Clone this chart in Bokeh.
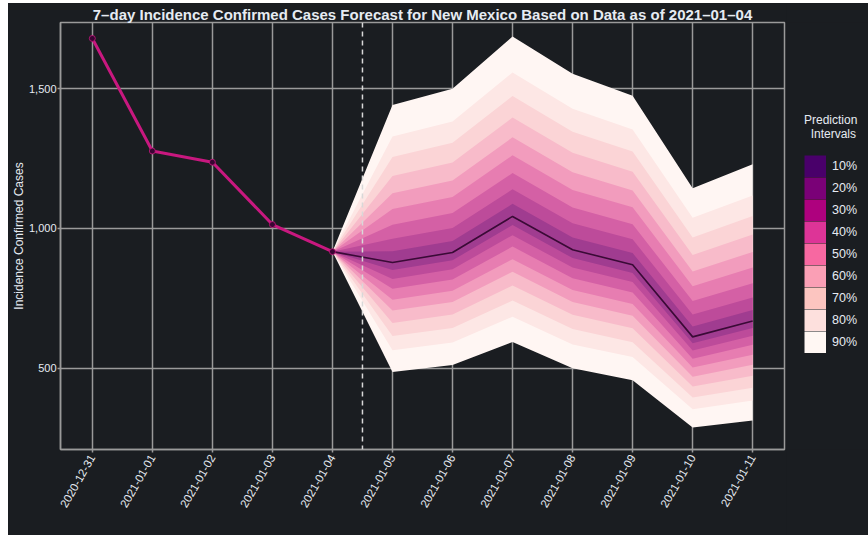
from bokeh.plotting import figure
from bokeh.layouts import row
from bokeh.models import Range1d, FixedTicker, NumeralTickFormatter, Span, Legend, LegendItem
from bokeh.embed import file_html
from bokeh.resources import INLINE

# ---------------- data ----------------
dates = ["2020-12-31", "2021-01-01", "2021-01-02", "2021-01-03", "2021-01-04",
         "2021-01-05", "2021-01-06", "2021-01-07", "2021-01-08", "2021-01-09",
         "2021-01-10", "2021-01-11"]
obs_dates = dates[:5]
obs_values = [1680, 1277, 1237, 1014, 917]
fc_dates = dates[5:]
fc_median = [878, 914, 1043, 924, 870, 612, 669]

interval_labels = ["10%", "20%", "30%", "40%", "50%", "60%", "70%", "80%", "90%"]

upper_10 = [918, 955, 1088, 968, 912, 649, 708]
upper_20 = [963, 1002, 1140, 1019, 961, 692, 753]
upper_30 = [1013, 1055, 1198, 1075, 1015, 740, 804]
upper_40 = [1070, 1113, 1262, 1138, 1076, 793, 860]
upper_50 = [1126, 1172, 1326, 1201, 1136, 846, 916]
upper_60 = [1188, 1236, 1397, 1271, 1203, 905, 978]
upper_70 = [1256, 1307, 1474, 1346, 1275, 968, 1045]
upper_80 = [1329, 1383, 1558, 1428, 1354, 1038, 1118]
upper_90 = [1442, 1500, 1687, 1554, 1475, 1144, 1230]

lower_10 = [851, 886, 1012, 894, 841, 589, 644]
lower_20 = [819, 854, 976, 860, 808, 563, 616]
lower_30 = [784, 817, 935, 822, 771, 534, 584]
lower_40 = [745, 777, 890, 780, 730, 502, 548]
lower_50 = [706, 737, 845, 737, 688, 469, 512]
lower_60 = [662, 692, 796, 691, 643, 434, 473]
lower_70 = [615, 644, 742, 640, 593, 395, 430]
lower_80 = [564, 592, 684, 585, 540, 353, 384]
lower_90 = [486, 511, 594, 500, 457, 288, 313]

uppers = [upper_10, upper_20, upper_30, upper_40, upper_50, upper_60, upper_70, upper_80, upper_90]
lowers = [lower_10, lower_20, lower_30, lower_40, lower_50, lower_60, lower_70, lower_80, lower_90]

y_ticks = [500, 1000, 1500]

# ---------------- style ----------------
BG = "#1a1d21"
GRID = "#9a9a9a"
TXT = "#e6ebf2"
FONT = "Liberation Sans"
legend_colors = ["#49006a", "#7a0177", "#ae017e", "#dd3497", "#f768a1",
                 "#fa9fb5", "#fcc5c0", "#fde0dd", "#fff7f3"]
band_colors = ["#a03c90", "#bd4b9a", "#d460a5", "#e77db1", "#f29cbd",
               "#f8bbca", "#fbd4d6", "#fde7e5", "#fff6f3"]

xpos = {d: i for i, d in enumerate(dates)}

p = figure(width=778, height=532, output_backend="svg", toolbar_location=None,
           x_range=Range1d(-0.53, len(dates) - 1 + 0.53),
           y_range=Range1d(209, 1737),
           background_fill_color=BG, border_fill_color=BG,
           min_border_left=10, min_border_right=2, min_border_top=0, min_border_bottom=86)

p.title.text = "7\u2013day Incidence Confirmed Cases Forecast for New Mexico Based on Data as of 2021\u201301\u201304"
p.title.align = "center"
p.title.text_color = TXT
p.title.text_font = FONT
p.title.text_font_size = "15px"
p.title.text_font_style = "bold"
p.title.standoff = 0
p.title.offset = 0

p.outline_line_color = GRID
p.outline_line_width = 1.5

# bands: from last observed point through forecast dates
band_x = [xpos[obs_dates[-1]]] + [xpos[d] for d in fc_dates]
for k in range(len(interval_labels) - 1, -1, -1):
    p.varea(x=band_x,
            y1=[obs_values[-1]] + lowers[k],
            y2=[obs_values[-1]] + uppers[k],
            fill_color=band_colors[k], fill_alpha=1.0)

# median forecast
p.line(band_x, [obs_values[-1]] + fc_median, line_color="#3a0a36", line_width=1.6)

# observed
ox = [xpos[d] for d in obs_dates]
p.line(ox, obs_values, line_color="#c8187f", line_width=3)
p.scatter(ox, obs_values, size=6, fill_color="#3a0533", line_color="#c8187f", line_width=0.8)

# forecast divider
p.add_layout(Span(location=4.5, dimension="height", line_color="#d8d8d8",
                  line_dash="5 4", line_width=1.5))

# axes
p.xaxis.ticker = FixedTicker(ticks=list(range(len(dates))))
p.xaxis.major_label_overrides = {i: d for i, d in enumerate(dates)}
p.xaxis.major_label_orientation = 1.05
p.yaxis.ticker = FixedTicker(ticks=y_ticks)
p.yaxis.formatter = NumeralTickFormatter(format="0,0")
p.yaxis.axis_label = "Incidence Confirmed Cases"
for ax in (p.xaxis[0], p.yaxis[0]):
    ax.axis_line_color = GRID
    ax.axis_line_width = 1.5
    ax.major_tick_line_color = GRID
    ax.major_tick_line_width = 1.5
    ax.major_tick_out = 3
    ax.major_tick_in = 0
    ax.minor_tick_line_color = None
    ax.major_label_text_color = TXT
    ax.major_label_text_font = FONT
    ax.major_label_standoff = 2
    ax.axis_label_text_color = TXT
    ax.axis_label_text_font = FONT
    ax.axis_label_text_font_size = "12px"
    ax.axis_label_text_font_style = "normal"
    ax.axis_label_standoff = 0
p.xaxis.major_label_text_font_size = "11.5px"
p.xaxis.major_label_standoff = 3
p.yaxis.major_label_text_font_size = "11px"
p.yaxis.major_label_standoff = 1

p.xgrid.grid_line_color = GRID
p.ygrid.grid_line_color = GRID
p.xgrid.grid_line_width = 1.5
p.ygrid.grid_line_width = 1.5

# legend lives in a narrow companion figure to the right
lg = figure(width=82, height=532, output_backend="svg", toolbar_location=None,
            x_range=Range1d(0, 1), y_range=Range1d(0, 1),
            background_fill_color=BG, border_fill_color=BG,
            min_border_left=0, min_border_right=0, min_border_top=0, min_border_bottom=0)
lg.axis.visible = False
lg.grid.visible = False
lg.outline_line_color = None
items = []
for lab, col in zip(interval_labels, legend_colors):
    # thick line swatch -> solid, gap-free colour block in the legend
    r = lg.line(x=[-5, -4], y=[-5, -5], line_color=col, line_width=22, line_cap="butt")
    items.append(LegendItem(label=lab, renderers=[r]))
legend = Legend(items=items, location=(18, 96),
                title="Prediction\n  Intervals", title_text_color=TXT,
                title_text_font=FONT, title_text_font_size="12px",
                title_text_font_style="normal", title_standoff=14,
                label_text_color=TXT, label_text_font=FONT, label_text_font_size="12.5px",
                glyph_width=22, glyph_height=22, label_height=22, spacing=0,
                label_standoff=6, padding=5, margin=0,
                background_fill_alpha=0, border_line_color=None)
lg.add_layout(legend)

layout = row(p, lg, spacing=0,
             styles={"margin-left": "8px", "margin-top": "3px", "background-color": BG})
open("out.html", "w").write(file_html(layout, INLINE))
